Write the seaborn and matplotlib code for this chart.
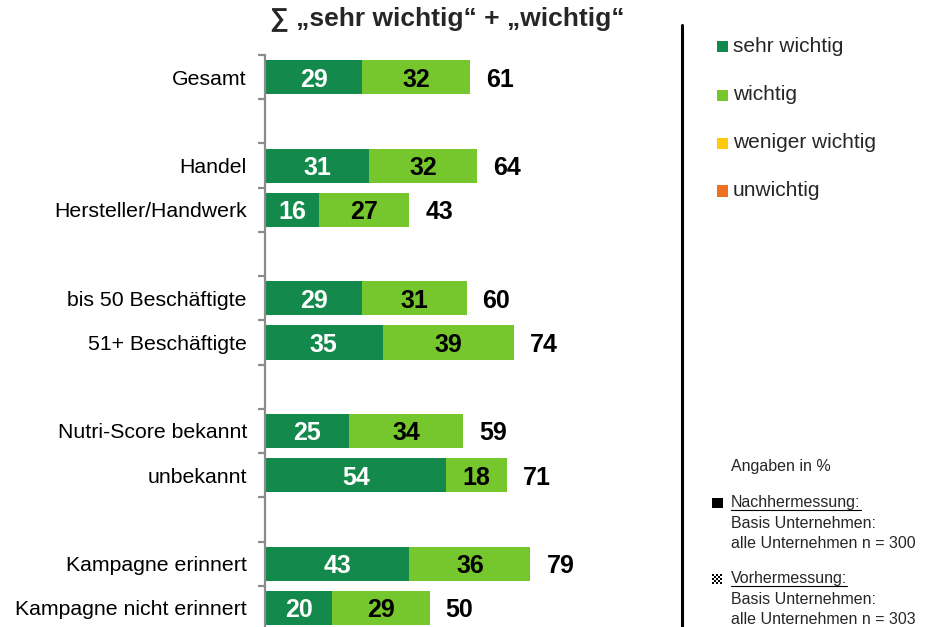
import numpy as np
import pandas as pd
import matplotlib
matplotlib.use("Agg")
import matplotlib.pyplot as plt
import seaborn as sns
from matplotlib.patches import Rectangle
from matplotlib.lines import Line2D

# ---- data -------------------------------------------------------------
categories = ["Gesamt", "Handel", "Hersteller/Handwerk",
              "bis 50 Beschäftigte", "51+ Beschäftigte",
              "Nutri-Score bekannt", "unbekannt",
              "Kampagne erinnert", "Kampagne nicht erinnert"]
sehr_wichtig = [29, 31, 16, 29, 35, 25, 54, 43, 20]
wichtig = [32, 32, 27, 31, 39, 34, 18, 36, 29]
summe = [61, 64, 43, 60, 74, 59, 71, 79, 50]

# row order on the y axis, blank rows separate the groups
row_order = ["Gesamt", " ",
             "Handel", "Hersteller/Handwerk", "  ",
             "bis 50 Beschäftigte", "51+ Beschäftigte", "   ",
             "Nutri-Score bekannt", "unbekannt", "    ",
             "Kampagne erinnert", "Kampagne nicht erinnert"]

legend_labels = ["sehr wichtig", "wichtig", "weniger wichtig", "unwichtig"]
legend_colors = ["#138A4B", "#76C62D", "#FFC90E", "#F07021"]

title = "\u2211 \u201esehr wichtig\u201c + \u201ewichtig\u201c"
note = "Angaben in %"
note_nach = ["Nachhermessung:", "Basis Unternehmen:", "alle Unternehmen n = 300"]
note_vor = ["Vorhermessung:", "Basis Unternehmen:", "alle Unternehmen n = 303"]

DARK, LIGHT = legend_colors[0], legend_colors[1]

# ---- figure -----------------------------------------------------------
W, H = 932, 627
sns.set_style("white")
plt.rcParams["font.family"] = ["Liberation Sans", "DejaVu Sans"]

fig = plt.figure(figsize=(W / 100, H / 100), dpi=100)


def fx(x):
    return x / W


def fy(y):
    return 1 - y / H


ax = fig.add_axes([fx(265), fy(630), 336 / W, 575 / H])

df = pd.DataFrame({"Kategorie": categories,
                   "sehr": sehr_wichtig,
                   "wichtig": wichtig})
df["gestapelt"] = df["sehr"] + df["wichtig"]

common = dict(data=df, y="Kategorie", order=row_order, orient="h",
              width=0.77, errorbar=None, saturation=1, linewidth=0, ax=ax)
sns.barplot(x="gestapelt", color=LIGHT, **common)
sns.barplot(x="sehr", color=DARK, **common)

ax.set_xlim(0, 100)
ax.set_ylim(12.5, -0.5)
ax.set_xlabel("")
ax.set_ylabel("")
ax.set_xticks([])

for name in ["top", "right", "bottom"]:
    ax.spines[name].set_visible(False)
ax.spines["left"].set_color("#8C8C8C")
ax.spines["left"].set_linewidth(1.6)

ax.set_yticks(range(len(row_order)))
ax.set_yticklabels(row_order)
ax.tick_params(axis="y", which="major", left=True, length=0, pad=13,
               labelsize=15.3, labelcolor="#000000")
ax.set_yticks(np.arange(-0.5, len(row_order) - 0.5, 1.0), minor=True)
ax.tick_params(axis="y", which="minor", left=True, length=5, width=1.6,
               color="#8C8C8C", direction="out")

# value labels inside and after the bars
for cat, s, w, tot in zip(categories, sehr_wichtig, wichtig, summe):
    pos = row_order.index(cat)
    ax.text(s / 2, pos, str(s), ha="center", va="center_baseline",
            color="white", fontsize=18, fontweight="bold")
    ax.text(s + w / 2, pos, str(w), ha="center", va="center_baseline",
            color="black", fontsize=18, fontweight="bold")
    ax.annotate(str(tot), xy=(s + w, pos), xytext=(11.5, 0),
                textcoords="offset points", ha="left", va="center_baseline",
                color="black", fontsize=18, fontweight="bold")

# title
fig.text(fx(447), fy(19), title, ha="center", va="center",
         fontsize=19, fontweight="bold")

# vertical separator
fig.add_artist(Line2D([fx(682), fx(682)], [fy(25), fy(627)],
                      transform=fig.transFigure, color="black", lw=2.2))

# legend
for lab, col, yc in zip(legend_labels, legend_colors, [46, 95, 143, 191]):
    fig.add_artist(Rectangle((fx(717), fy(yc + 5.5)), 11 / W, 11 / H,
                             transform=fig.transFigure, facecolor=col,
                             edgecolor="none"))
    fig.text(fx(733), fy(yc), lab, ha="left", va="center", fontsize=15)

# notes
fig.text(fx(731), fy(466), note, ha="left", va="center", fontsize=11.5)

fig.add_artist(Rectangle((fx(712), fy(508)), 11 / W, 10 / H,
                         transform=fig.transFigure, facecolor="black",
                         edgecolor="none"))
nach_texts = []
for txt, yc in zip(note_nach, [503, 524, 544]):
    t = fig.text(fx(731), fy(yc), txt, ha="left", va="center", fontsize=11.5)
    nach_texts.append(t)
nach_head = nach_texts[0]

# checkered marker
cell = 2
n = 5
checker = np.ones((n * cell, n * cell))
for i in range(n):
    for j in range(n):
        if (i + j) % 2 == 0:
            checker[i * cell:(i + 1) * cell, j * cell:(j + 1) * cell] = 0.0
fig.figimage(checker, xo=712, yo=H - 584, cmap="gray", vmin=0, vmax=1,
             origin="upper")

vor_texts = []
for txt, yc in zip(note_vor, [579, 600, 620]):
    t = fig.text(fx(731), fy(yc), txt, ha="left", va="center", fontsize=11.5)
    vor_texts.append(t)
vor_head = vor_texts[0]

# underline the two headings
fig.canvas.draw()
renderer = fig.canvas.get_renderer()
for t in (nach_head, vor_head):
    bb = t.get_window_extent(renderer)
    yline = bb.y0 + 1
    fig.add_artist(Line2D([bb.x0 / W, bb.x1 / W], [yline / H, yline / H],
                          transform=fig.transFigure, color="black", lw=0.8))

fig.savefig("out.png", dpi=100)
